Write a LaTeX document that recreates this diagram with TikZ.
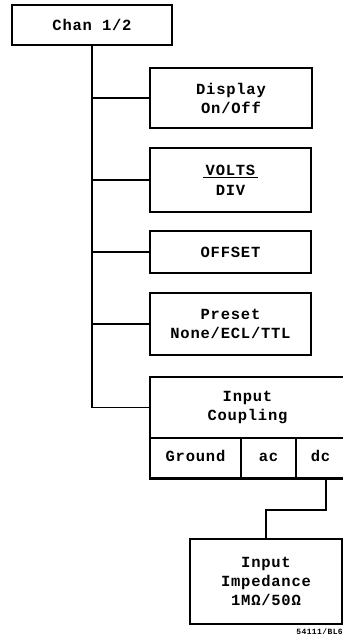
\documentclass[tikz,border=0pt]{standalone}
\usepackage{fontspec}
\newfontfamily\plotfont[LetterSpace=5]{Liberation Mono}
\begin{document}
\begin{tikzpicture}[x=1pt,y=-1pt,
  box/.style={draw,line width=1.8pt,rectangle,inner sep=0pt,align=center,
    font=\plotfont\bfseries\fontsize{15.5}{19}\selectfont},
  cell/.style={draw,line width=1.4pt,rectangle,inner sep=0pt,minimum height=40pt,
    text height=10pt,text depth=3pt,
    font=\plotfont\bfseries\fontsize{15.5}{19}\selectfont},
  conn/.style={line width=1.3pt}]
\useasboundingbox (0,0) rectangle (343,638);
\node[box,minimum width=160pt,minimum height=40pt] (chan) at (92,25) {Chan 1/2};
\node[box,minimum width=162pt,minimum height=60pt] (disp) at (231,98) {Display\\On/Off};
\node[box,minimum width=161pt,minimum height=64pt] (volts) at (230.5,180)
  {\underline{\,VOLTS\,}\\[1pt]DIV};
\node[box,minimum width=161pt,minimum height=42pt] (offset) at (230.5,252) {OFFSET};
\node[box,minimum width=161pt,minimum height=62pt] (preset) at (230.5,324) {Preset\\None/ECL/TTL};
\node[box,minimum width=195pt,minimum height=61pt] (coup) at (247.5,407.5) {Input\\Coupling};
\node[cell,minimum width=91pt] (ground) at (195.5,458) {Ground};
\node[cell,minimum width=55pt] (ac) at (268.5,458) {ac};
\node[cell,minimum width=49pt] (dc) at (320.5,458) {dc};
\draw[line width=1.8pt] (ground.south west) -- (dc.south east);
\node[box,minimum width=152pt,minimum height=85pt] (imp) at (266,581.5) {Input\\Impedance\\1MΩ/50Ω};
\node[font=\plotfont\bfseries\fontsize{8}{9}\selectfont,anchor=east,inner sep=0pt] (tag) at (343,632) {54111/BL6};
% trunk
\draw[conn] (chan.south) |- (coup.west);
\draw[conn] (disp.west) -- (disp.west -| chan.south);
\draw[conn] (volts.west) -- (volts.west -| chan.south);
\draw[conn] (offset.west) -- (offset.west -| chan.south);
\draw[conn] (preset.west) -- (preset.west -| chan.south);
\coordinate (bend) at (326,510);
\draw[conn] (dc.south -| bend) -- (bend) -| (imp.north);
\end{tikzpicture}
\end{document}
